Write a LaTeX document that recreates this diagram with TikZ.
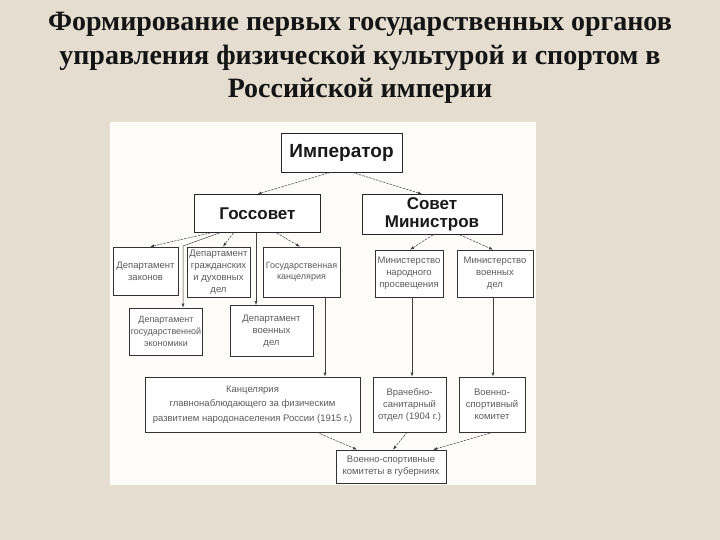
\documentclass[tikz,border=0pt]{standalone}
\usepackage{fontspec}
\setmainfont{Liberation Serif}
\newfontfamily\boxsans{Liberation Sans}
\usetikzlibrary{arrows.meta,calc}
\definecolor{bgbeige}{HTML}{E4DDD0}
\definecolor{panelw}{HTML}{FDFCF9}
\definecolor{smalltxt}{HTML}{5C5C5C}
\tikzset{
  bigbox/.style={draw=black!85,line width=0.8pt,fill=white,inner sep=1pt,align=center,
    font=\boxsans\bfseries\fontsize{17}{18}\selectfont,text=black!90},
  smallbox/.style={draw=black!80,line width=0.7pt,fill=white,inner sep=1pt,align=center,
    font=\boxsans\fontsize{9.5}{12}\selectfont,text=smalltxt},
  arr/.style={draw=black!75,line width=0.5pt,-{Latex[length=4pt,width=3pt]}},
  darr/.style={arr,dash pattern=on 2.5pt off 1pt},
  titletxt/.style={font=\bfseries\fontsize{28}{28}\selectfont,anchor=base,text=black!92}
}
\begin{document}
\begin{tikzpicture}[x=1pt,y=-1pt]
\fill[bgbeige] (0,0) rectangle (720,540);
\useasboundingbox (0,0) rectangle (720,540);
\fill[panelw] (110,122) rectangle (536,485);
% title
\node[titletxt] (t1) at (360,31) {Формирование первых государственных органов};
\node[titletxt] (t2) at (360,65) {управления физической культурой и спортом в};
\node[titletxt] (t3) at (360,98) {Российской империи};
% top boxes
\node[bigbox,minimum width=121pt,minimum height=39pt,font=\boxsans\bfseries\fontsize{19}{19}\selectfont] (imp) at (341.5,152.5) {Император};
\node[bigbox,minimum width=126pt,minimum height=38pt] (gos) at (257.5,213.5) {Госсовет};
\node[bigbox,minimum width=140pt,minimum height=40pt,inner sep=0.5pt] (sov) at (432,214.5) {Совет\\Министров};
% row 2
\node[smallbox,minimum width=65pt,minimum height=48pt] (dz) at (145.5,271) {Департамент\\законов};
\node[smallbox,minimum width=63pt,minimum height=50pt] (dg) at (218.5,272) {Департамент\\гражданских\\и духовных\\дел};
\node[smallbox,minimum width=77pt,minimum height=50pt,font=\boxsans\fontsize{9}{11.5}\selectfont] (gk) at (301.5,272) {Государственная\\канцелярия};
\node[smallbox,minimum width=68pt,minimum height=47pt] (mnp) at (409,273.5) {Министерство\\народного\\просвещения};
\node[smallbox,minimum width=76pt,minimum height=47pt] (mvd) at (495,273.5) {Министерство\\военных\\дел};
% row 3
\node[smallbox,minimum width=73pt,minimum height=47pt,font=\boxsans\fontsize{9}{12}\selectfont] (dge) at (166,331.5) {Департамент\\государственной\\экономики};
\node[smallbox,minimum width=83pt,minimum height=51pt] (dvd) at (271.5,331) {Департамент\\военных\\дел};
% row 4
\node[smallbox,minimum width=215pt,minimum height=55pt,font=\boxsans\fontsize{9.5}{14.5}\selectfont] (kan) at (252.5,404.5) {Канцелярия\\главнонаблюдающего за физическим\\развитием народонаселения России (1915 г.)};
\node[smallbox,minimum width=73pt,minimum height=55pt] (vrach) at (409.5,404.5) {Врачебно-\\санитарный\\отдел (1904 г.)};
\node[smallbox,minimum width=66pt,minimum height=55pt] (vsk) at (492,404.5) {Военно-\\спортивный\\комитет};
% row 5
\node[smallbox,minimum width=110pt,minimum height=33pt] (gub) at (391,466.5) {Военно-спортивные\\комитеты в губерниях};
% connectors
\coordinate (bend) at (183,246);
\draw[darr] ([xshift=-11pt]imp.south) -- (gos.north);
\draw[darr] ([xshift=11pt]imp.south) -- ([xshift=-10pt]sov.north);
\draw[darr] ([xshift=-47pt]gos.south) -- ([xshift=4.5pt]dz.north);
\draw[darr] ([xshift=-24pt]gos.south) -- ([xshift=4.5pt]dg.north);
\draw[darr] ([xshift=19pt]gos.south) -- ([xshift=-1.5pt]gk.north);
\draw[arr] ([xshift=-38pt]gos.south) -- (bend) -- (bend |- dge.north);
\draw[arr] ([xshift=-1.5pt]gos.south) -- ([xshift=-1.5pt]gos.south |- dvd.north);
\draw[darr] ([xshift=1pt]sov.south) -- ([xshift=1pt]mnp.north);
\draw[darr] ([xshift=28pt]sov.south) -- ([xshift=-2pt]mvd.north);
\draw[arr] ([xshift=23.5pt]gk.south) -- ([xshift=23.5pt]gk.south |- kan.north);
\draw[arr] ([xshift=3pt]mnp.south) -- ([xshift=3pt]mnp.south |- vrach.north);
\draw[arr] ([xshift=-2pt]mvd.south) -- ([xshift=-2pt]mvd.south |- vsk.north);
\draw[darr] ([xshift=64.5pt]kan.south) -- ([xshift=-34pt]gub.north);
\draw[darr] ([xshift=-2.5pt]vrach.south) -- ([xshift=2pt]gub.north);
\draw[darr] ([xshift=1pt]vsk.south) -- ([xshift=42pt]gub.north);
\end{tikzpicture}
\end{document}
